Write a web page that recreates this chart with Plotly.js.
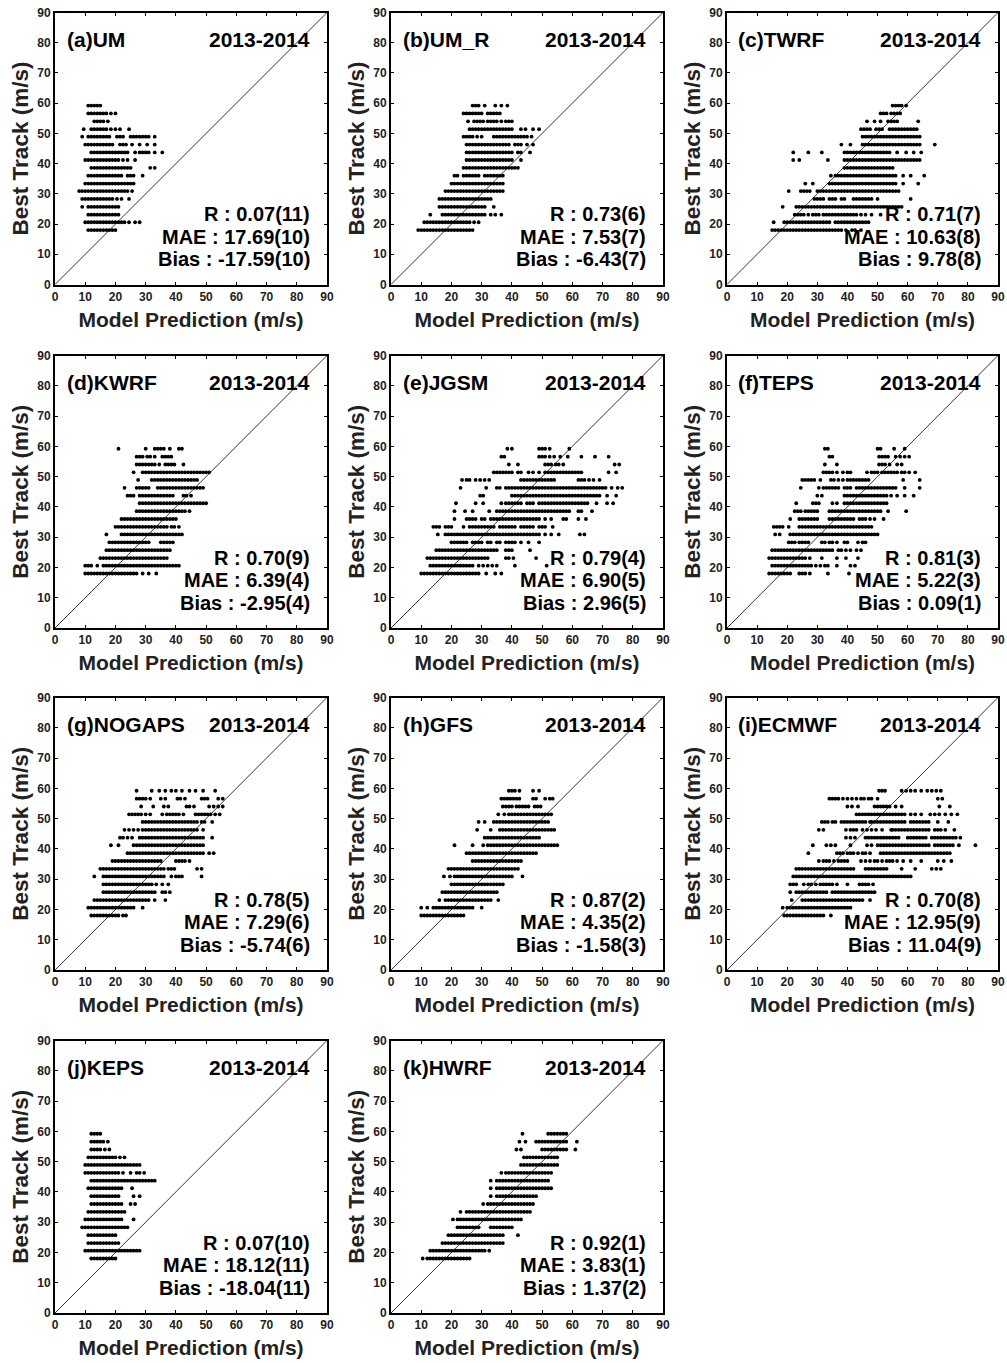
<!DOCTYPE html>
<html>
<head>
<meta charset="utf-8">
<script src="https://cdn.plot.ly/plotly-3.0.1.min.js"></script>
<style>html,body{margin:0;padding:0;background:#fff;}#chart{width:1007px;height:1363px;}</style>
</head>
<body>
<div id="chart"></div>
<script>
// Best-track intensity levels (m/s), shared by all panels (bottom to top)
const bestTrack = [18.0, 20.6, 23.1, 25.7, 28.3, 30.9, 33.4, 36.0, 38.6, 41.2, 43.7, 46.3, 48.9, 51.4, 54.0, 56.6, 59.2];

// Model predictions (m/s) observed at each best-track level, one list per level
const predUM = [
[11,12,13,14,15,16,17,18,19,20],
[10,11,12,13,14,15,16,17,18,19,20,21,22,23,24.5,26.5,28],
[11,12,13,14,15,16,17,18,19,20,21],
[9,11,12,13,14,15,16,17,18,19,20,21],
[9,10,11,12,13,14,15,16,17,18,19,20.5,22,24.5],
[8,9,10,11,12,13,14,15,16,17,18,19,20,21,22,23,24,25.5],
[10,11,12,13,14,15,16,17,18,19,20,21,22,23,24,25,26],
[11,12,13,14,15,16,17,18,19,20,21,22,24,25,26,29],
[12,13,14,15,16,17,18,19,20,21,22,23,24,25,31.5,33],
[10,11,12,13,14,15,16,17,18,19,20,21,22.5,24,26.5],
[12,13,14,15,16,17,18,19,20,21,22,23,24,26.5,28,29,30,31,33,35.5],
[10,11,12,13,14,15,16,17,18,19,21.5,22.5,23.5,25.5,28,30.5,33],
[9,11,12,13,14,15,16,17,18,20.5,21.5,22.5,25,26,27,28,29,30,31,33],
[9.5,12,13,14,15,16,17,18.5,20,21.5,24.5],
[13,14,15,16,17.5],
[11,12,13,14,15,16,17,18.5,20],
[11,12,13,14,15]
];
const predUMR = [
[9,10,11,12,13,14,15,16,17,18,19,20,21,22,23,24,25,26,27],
[11,12,13,14,15,16,17,18,19,20,21,22,23,24,25,26,27.5,29],
[13,17,18,19,20,21,22,23,24,25,26,27,28,29,30,31,33,34.5,36.5],
[16,17,18,19,20,21,22,23,24,25,26,27,28,29,30,31,34],
[16,17,18,19,20,21,22,23,24,25,26,27,28,29,30,31,32,33],
[18,19,20,21,22,23,24,25,26,27,28,29,30,31,32,33,34,35,36,37],
[20,21,22,23,24,25,26,27,28,29,30,31,32,33,34,35,36,37],
[21,22,24,25,26,27,28,29,31,32,33,34,35,36,37],
[24,25,26,27,28,29,30,31,32,33,34,35,36,37,38,39,40,41,42],
[25,26,27,28,29,30,31,32,33,34,35,36,37,38,39,40,43],
[25,26,27,28,29,30,31,32,33,34,35,36,37,38,39,40,42,43,46],
[25,26,27,28,29,30,31,32,33,34,35,36,37,38,39,41,42,43,45,47],
[24,25,26,27,28.5,30,34,35,36,37,38,39,40,41,42,43,44,45,46.5],
[26,27,28,29,30,31,32,33,34,35,36,37,38,39,40,43,44.5,47,49],
[25.5,27.5,28.5,29.5,30.5,32,33,34,35,36.5,38,39,40],
[24,25,26,27,28,29,30,32,33,34,35,36],
[27,28,29,31,34.5,36.5,38.5]
];
const predTWRF = [
[15,16,17,18,19,20,21,22,23,24,25,26,27,28,29,30,31,32,33,34,35,36,37,38,39.5,41.5,42.5,44.5],
[15.5,19,20,21,22,23,24,25,26,27,28,29,30,31,32,33,34,36,37,38,39,40,41,42,43,44,45,46,47],
[22.5,23.5,24.5,25.5,27,28.5,29.5,30.5,32,33,34,35,36,37,38,39,40,41,42,43,44.5,46,48,51],
[18.5,23,24,25,26,27,28,29,30,31,32,33,34,35,36,37,38,39,40,41,42,43,44,45,46,47,48,49,50,51,52,53,54,55,56,57,58],
[29,30,31,32,34,35,36,38,39,42,43,44,45,46,47,48,50,61],
[20.5,24.5,25.5,26.5,27.5,30,31,32,33,34,35,36,37,38,39,40,41,42,43,44,45,46,47,48,49,50,51,52,53,54,55,56,57],
[26,28.5,34,35,36,37,38,39,40,41,42,43,44,45,46,47,48,49,50,51,52,53,54,55,56,58.5,63.5],
[34.5,36,37,38,39,40,41,42,43,44,45,46,47,48,49,50,51,52,53,54,55,56,58.5,61,65.5],
[39,40,41,42,43,44,45,46,47,48,49,50,51,52,53,54,55],
[22,24,33.5,39,40,41,42,43,44,45,46,47,48,49,50,51,52,53,54,55,56,57,58,59,60,61,62,63,64],
[22,27,31.5,39,40,41,42,43,44,45,46,47,48,49,50,51,52,53,54,56.5,59.5,62,64.5],
[38,41,45,46,47,48,49,50,51,52,53,54,55,56,57,58,59,60,61,62,63,64,69],
[45,46,47,48,49,50,51,52,53,54,55,56,57,58,59,60,61,62,63,64],
[44.5,45.5,46.5,47.5,49.5,50.5,51.5,54,55,56,57,58,59,60,61,62,63],
[46.5,49,51,53.5,54.5,55.5,56.5,63.5],
[51,52,53,54.5,55.5,56.5,57.5],
[55,56,57,58,59.5]
];
const predKWRF = [
[10,11,12,13,14,15,16,17,18,19,20,21,22,23,24,25,26,27,29,31,33.5],
[10,11,12,14,16,17,18,19,20,21,22,23,24,25,26,27,28,29,30,31,32,33,34,35,36,37,38,39,40,41],
[15,16,17,18,19,20,21,22,23,24,25,26,27,28,29,30,31,32,33,34,35,36,37],
[17,18,19,20,21,22,23,24,25,26,27,28,29,30,31,32,33,34,35,36,37,38],
[18,19,20,21,22,23,24,25,26,27,28,29,30,31,35,36,37,38,39],
[17,22,23,24,25,26,27,28,29,30,31,32,33,34,35,36,37,38,39,40,41,42],
[20,21,22,23,24,25,26,27,28,29,30,31,32,33,34,35,36,37,38.5,39.5,41],
[22,23,24,25,26,27,28,29,30,31,32,33,34,35,36,37,38,39,40],
[27,28,29,30,31,32,33,34,35,36,37,38,39,40,41,42,43,44.5],
[28,29,30,31,32,33,34,35,36,37,38,39,40,41,42,43,44,45,46,47,48,49,50],
[24,25,26,28,29,30,31,32,33,34,35,36,37,38,39,42.5,43.5,45],
[23,27,28,29,30,31,34,35,36,37,38,39,40,41,42,43,44,45,46,47,48,49],
[27.5,32,33,34,35,36,37,38,39,40,41,42,43,44,45,46,47],
[26,29,30,31,32,33,34,35,36,37,38,39,40,41,42,43,44,45,46,47,48,49,50,51],
[27,28,29,30,31,32,33,34.5,36.5,37.5,38.5,39.5,42.5],
[27,28,29,30.5,31.5,33,35.5,36.5,37.5,38.5],
[21,30,33,34,35,36,38,41,42]
];
const predJGSM = [
[10,11,12,13,14,15,16,17,18,19,20,21,22,23,24,25,26,27,28,29,31.5,34.5,36.5],
[13,14,15,16,17,18,19,20,21,22,23,24,25,26,27,29,30.5,32,33.5,35,41,51.5],
[12,13,14,15,16,17,18,19,20,21,22,23,24,25,26,27,28,29,30,31,32,38,39,40.5,48],
[15,16,17,18,19,20,21,22,23,24,25,26,27,28,29,30,31,32,33,34,35,38,39,40,46],
[20,21,22,23,24,25,27,28,29,30,32,33,35,36,38,39,40,41,43,45.5,49],
[15.5,18,19,20,21,22,23,24,25,26,27,28,29,30,31,32,33,34,35,36,37,38,39,40,41,42,43,44,45,46,47,48,49,51,53,55.5,62.5,64],
[14,15,16,18,19,20,24,26,27,28,29,30,31,32,33,34,36,37,38,39,40,41,43,44,45,46,47,49,50,51,53.5],
[21,25,26,27,28,30,31,33,34,35,36,37,38,39,40,41,42,43,44,45,46,47,48,49,51,53,57,58,62,64.5],
[21,24.5,27,32.5,35,36,37,38,39,40,41,42,43,44,45,46,47,48,49,50,51,52,53,54,55,56,57,58,59,62,63,66.5],
[21.5,28,30.5,36.5,38,39,40,41,42,43,45,46,47,49,50,51,52,53,54,55,56,57,58,59,60,61,62,63,64,65,68,71.5,73.5],
[29.5,30.5,40,41,42,43,44,45,46,47,48,49,50,51,52,53,54,55,56,57,58,59,60,61,62,63,64,65,66,67,68,69,71.5,74.5],
[23,31.5,35,36,38,39,40,41,42,43,44,45,46,47,48,49,50,51,52,53,54,55,56,57,58,59,60,61,62,63,64,65,66,67,68,69,70,71,73,75,76.5],
[23.5,25,26,28,29.5,31,32.5,43,44,45,46,47,48,49,50,51,52,53,54,62,63,64,65.5,67,69],
[34,35,36,37,38,39,40,42,43,45.5,47,49,51,52,53,54,55,56,57,58,59,60,61,62,63,72,74.5],
[39,42,51,52,53,54.5,55.5,57,74,75.5],
[36.5,37.5,49,50,51,52.5,54,56,58.5,63,67.5,72],
[38.5,40,49,50,51,52.5,59]
];
const predTEPS = [
[14,15,16,17,18,19,20,21,24,25,26,27.5,33.5,40.5],
[15,16,17,18,19,20,21,22,23,24,25,26,27,28,29.5,31,32.5,33.5,36.5,41,42.5],
[14,15,16,17,18,19,20,21,22,23,24,25,26,27.5,31.5,36.5,39.5,43.5],
[15,16,17,18,19,20,21,22,23,24,25,26,27,28,29,30,31,32,33,34,35,37,38,39.5,41,43,44.5],
[20.5,21.5,22.5,24,25,26,27,31.5,32.5,34,35,36.5,39,40,43.5,45,46],
[16,17.5,21,22,23,24,25,26,27,28,29,30,31,32,33,34,35,36,37,38,39,40,41,42,43,44,45,46,47,48,49,50],
[15.5,16.5,17.5,18.5,20.5,24,25,26,27,28,29,30,31,32,33,34,35,36,37,38,39,40,41,42,43,44,45,46,47,48],
[21,24,25,26,27,28,29,30,34,35,36,37,38,39,40,41,42,44,45,46,47.5,49,52],
[22.5,23.5,24.5,26,27,28,29,30,34,35,36,37,38,39,40,41,42,43,44,45,46,47,48,49,50,51,53.5,59.5],
[23,28.5,29.5,30.5,35,36.5,39,40,41,42,43,44,45,46,47,48,49,50,51,52,53],
[30,31.5,39,40,41,42,43,44,45,46,47,48,49,50,51,52,53,54.5,56.5,59,62],
[24.5,30.5,32,33,34,35,36,37,39,40,41,43,44,45,46,47,48,49,50,51,52,53,54,55,56,59,64],
[25,26,27,28,29,31,34.5,35.5,37,38.5,40,41,42,43,44,45,46,47,58.5,64],
[32,33,34,35,36.5,38.5,40,41,46.5,48,49,50,51.5,52.5,53.5,54.5,55.5,56.5,58,59,60.5,62.5],
[32.5,36.5,50.5,51.5,52.5,54,56.5,58],
[34,35,50.5,51.5,52.5,53.5,56,57.5,59,60.5],
[32.5,33.5,50,51,55.5,59]
];
const predNOGAPS = [
[12,13,14,15,16,17,18,19,20,21,22.5,23.5],
[11,12,13,14,15,16,17,18,19,20,21,22,23,24,25,26,29],
[13,14,15,16,17,18,19,20,21,22,23,24,25,26,27,28,29,30,31,33,36.5],
[16,17,18,19,20,21,22,23,24,25,26,27,28,29,30,31,32,33,35.5,36.5,38],
[16,17,18,19,20,21,22,23,24,25,26,27,28,29,30,31,32,33.5,35.5,37.5],
[13,16,17,18,19,20,21,22,23,24,25,26,27,28,29,30,31,32,33,34,35,36,38.5,40,41,42,48.5],
[15,16,17,18,19,20,21,22,23,24,25,26,27,28,29,30,31,32,33,34,35,36,37.5,38.5,39.5,47,48.5],
[19,20,21,22,23,24,25,26,27,28,29,30,31,32,33,34,35,40,41,42,43,44.5],
[24,25,26,27,28,29,30,31,32,33,34,35,36,37,38,39,40,41,42,43,44,45,46,47,48,49,51,52.5],
[18.5,21,26,27,28,29,30,31,32,33,34,35,36,37,38,39,40,41,42,43,44,45,46,47,48,49],
[21.5,22.5,24,25.5,28,29,30,31,32,33,34,35,36,37,38,39,40,41,42,43,44,45,46,47,48,49,52],
[23,24.5,26,27.5,29,30,31,32,33,34,35,36,37,38,39,40,41,42,43,44,45,46,47,49],
[29,30,31,32,33,34,35,36,37,38,39,40,41,42,43,44,45,46,47,48.5,49.5,52],
[24.5,25.5,26.5,27.5,28.5,30,31.5,35.5,37,38,39,40,41,42.5,46.5,47.5,48.5,49.5,50.5,51.5,53,54.5],
[28.5,32.5,36,37.5,43.5,44.5,46,51,52.5,54,55.5],
[27,28,29,30,31.5,35,36.5,40.5,41.5,43,48.5,49.5,50.5,54,55.5],
[27,32,34.5,36.5,38.5,40,42,44.5,46.5,49,53]
];
const predGFS = [
[10,11,12,13,14,15,16,17,18,19,20,21,22,23,24],
[10,12,14,15,16,17,18,19,20,21,22,23,24,25,26,27,30],
[16,18,19,20,21,22,23,24,25,26,27,28,29,30,31,32,33,35.5],
[17,18,19,20,21,22,23,24,25,26,27,28,29,30,31,32,33,34,35],
[20,21,22,23,24,25,26,27,28,29,30,31,32,33,34,35,36,37],
[17.5,19.5,21,22,23,24,25,26,27,28,29,30,31,32,33,34,35,36,37,38,39,40,43.5],
[19,20,21,22,23,24,25,26,27,28,29,30,31,32,33,34,35,36,37,38,39,40,41,42],
[27,28,29,30,31,32,33,34,35,36,37,38,39,40,41,42,43],
[25,26,27,28,29,30,31,32,33,34,35,36,37,38,39,40,41,42,43,44,45,46,47,48],
[21,27,30.5,32,33,34,35,36,37,38,39,40,41,42,43,44,45,46,47,48,49,50,51,52,53,54,55],
[31,32,33,34,35,36,37,38,39,40,41,42,43,44,45,46,47,48,49],
[28.5,33,36,37,38,39,40,41,42,43,44,45,46,47,48,49,50,51,52,53,54],
[29,31,34,35,36,37,38,39,40,41,42,43,44,45,46,47,48,49,50,51,52],
[35.5,37.5,39,40,41,42,43,44,45,46,47,48,49,50,51,52,53],
[37,38,39,40,41.5,42.5,43.5,44.5,45.5,47.5,48.5,49.5],
[36.5,37.5,38.5,39.5,40.5,41.5,42.5,47,48,51,52.5,53.5],
[39,40,41,42.5,47,49]
];
const predECMWF = [
[19,20,21,22,23,24,25,26,27,28,29,30,31,32,34.5],
[18.5,20,21,22,23,24,25,26,27,28,29,30,31,32,33,34,35,36,37,38,39,40,41],
[21.5,25,26,27,28,29,30,31,32,33,34,35,36,37,38,39,40,41,42,43,44,45,47.5],
[21,23,24,25,26,27,28,29,30,31,32,33,35,36,37,38,39,40,41,42,43,44,45,46,47,48,49],
[21,22,23,25.5,27,28,29.5,31,32,33,34,35,36.5,40,44,45,46,47,48.5],
[22,23,24,25,26,27,28,29,30,31,32,33,34,35,36,37,38,39,40,41,42,43,44,45,46,47,48,49,50,51,52,53,54,55,56,57,58,59,60,61],
[23,24,25,26,27,28,29,30,31,32,33,34,35,36,37,38,39,40,41,42,46,47,48,49,50,51,52,53,58,62.5,68,69.5,71],
[30.5,32,33,34,35.5,37,38,39,40,44.5,46,47.5,49,50,51.5,53,54,55,56.5,58.5,61,64.5,70,72,74.5],
[27,36.5,37.5,38.5,40,41,42,43.5,45,46,47.5,51,52,53,54,55,56,57,58,59,60,61,62,63,64,65,66,67,68,69,70,71,72,73,74],
[28.5,33,34.5,36,41,46.5,48,50,51,52,53,54,55,56,57,58,59,60,61,62,63,64,65,66,67,69,70,71,72,73,74,75,77,82.5],
[39.5,41,42.5,46,47,48,49,50,51,52,53,54,55,56,57,60,61,62,63,64,65,66,68,69,70,71,72,73,74,75,76,77.5],
[30.5,32,39.5,41,42,43,45,46.5,48,49.5,51.5,54.5,55,56,57,58,59,60,61,62,63,64,65,66,67,69,70,71,72.5,75.5],
[31.5,32.5,33.5,35,36,38,39,40,41,42,43,44,45,46,47.5,48,49,50,51,52,53,54,55,56,57,58,59,61,62,63,64,65,66,67,70,73.5],
[43,44,45,46,47,48,49,50,51,52,53,54,55,56,57,58,59,61,62.5,64.5,67.5,69,70.5,72.5,74.5,76.5],
[40,41.5,43.5,49,50,51,52,53,54,56,58,70.5,74],
[34,35,36,37,38.5,40,41.5,43,44.5,45.5,47,48,50,70,71.5],
[50.5,51.5,52.5,58,59.5,61,62.5,64.5,66.5,68,69.5,71]
];
const predKEPS = [
[12,13,14,15,16,17,18,19,20],
[10,11,12,13,14,15,16,17,18,19,20,21,22,23,24,25,26,27,28],
[11,12,13,14,15,16,17,18,19,20,21],
[11,12,13,14,15,16,17,18,19,20],
[9,10,11,12,13,14,15,16,17,18,19,20,21,22,23,24],
[10,11,12,13,14,15,16,17,18,19,20,21,22,26],
[11,12,13,14,15,16,17,18,19,20,21,22,23],
[12,13,14,15,16,17,18,19,20,21,22,25,26.5],
[12,13,14,15,16,17,18,19,20,21,26,28],
[11,12,13,14,15,16,17,18,19,20,21,22,25.5],
[12,13,14,15,16,17,18,19,20,21,22,23,24,25,26,27,28,29,30,31,32,33],
[10,11,12,13,14,15,16,17,18,19,20,21,22.5,25,27,28,29.5],
[10,11,12,13,14,15,16,17,18,19,20,21,22,23,24,25,26,27,28],
[11,12,13,14,15,16,17,18,19,20,21.5,23],
[12,13,14,15,16.5,18],
[12,13,14,15,16,17.5],
[12,13,14,15]
];
const predHWRF = [
[10.5,12,13,14,15,16,17,18,19,20,21,22,23,24,25,26],
[13,14,15,16,17,18,19,20,21,22,23,24,25,26,27,28,29,30,31,32.5],
[17,18,19,20,21,22,23,24,25,26,27,28,29,30,31,32,33,34,35,36,37],
[19,20,21,22,23,24,25,26,27,28,29,30,31,32,33,34,35,36,37,42],
[22,23,24,25,26,27,28,29,33,34,35,36,37,38,39,40],
[20.5,22,23,24,25,26,27,28,29,30,31,32,33,34,35,36,37,38,39,40,41,42,43],
[23,25,26,27,28,29,30,31,32,33,34,35,36,37,38,39,40,41,42,43,44,45,46],
[30.5,32,33,34,35,36,37,38,39,40,41,42,43,44,45,46,47],
[33,35,36,37,38,39,40,41,42,43,44,45,46,47,48],
[33,35,36,37,38,39,40,41,42,43,44,45,46,47,48,49,50,51,52,53],
[33,35,36,37,38,39,40,41,42,43,44,45,46,47,48,49,50,51,52],
[36.5,38,39,40,41,42,43,44,45,46,47,48,49,50,51,52,53],
[43,44,45,46,47,48,49,50,51,52,53,54,55],
[44,45,46,47,48,49,50,51,52,53,54,55],
[41.5,43,50,51,52,53,54,55,56,57,58,61],
[42.5,44.5,48,49,50,51,52,53,54,55,56,57,58,61.5],
[43.5,52,53,54,55,56,57,58]
];

const panelLabels = ['(a)UM','(b)UM_R','(c)TWRF','(d)KWRF','(e)JGSM','(f)TEPS','(g)NOGAPS','(h)GFS','(i)ECMWF','(j)KEPS','(k)HWRF'];
const periodLabel = '2013-2014';
const statR = ['R : 0.07(11)','R : 0.73(6)','R : 0.71(7)','R : 0.70(9)','R : 0.79(4)','R : 0.81(3)','R : 0.78(5)','R : 0.87(2)','R : 0.70(8)','R : 0.07(10)','R : 0.92(1)'];
const statMAE = ['MAE : 17.69(10)','MAE : 7.53(7)','MAE : 10.63(8)','MAE : 6.39(4)','MAE : 6.90(5)','MAE : 5.22(3)','MAE : 7.29(6)','MAE : 4.35(2)','MAE : 12.95(9)','MAE : 18.12(11)','MAE : 3.83(1)'];
const statBias = ['Bias : -17.59(10)','Bias : -6.43(7)','Bias : 9.78(8)','Bias : -2.95(4)','Bias : 2.96(5)','Bias : 0.09(1)','Bias : -5.74(6)','Bias : -1.58(3)','Bias : 11.04(9)','Bias : -18.04(11)','Bias : 1.37(2)'];
const oneToOne = [0, 90];
const xTitle = 'Model Prediction (m/s)';
const yTitle = 'Best Track (m/s)';

const allPred = [predUM, predUMR, predTWRF, predKWRF, predJGSM, predTEPS, predNOGAPS, predGFS, predECMWF, predKEPS, predHWRF];

// ---------- layout ----------
const W = 1007, H = 1363;
const FONT = '"Liberation Sans", Arial, Helvetica, sans-serif';
const colPx = [[55, 327], [391, 663], [727, 998]];
const rowPx = [[12.5, 284.5], [355.5, 628], [697.5, 970], [1040.5, 1313]];

const traces = [];
const layout = {
  width: W, height: H,
  margin: {l: 0, r: 0, t: 0, b: 0},
  paper_bgcolor: '#fff', plot_bgcolor: '#fff',
  showlegend: false,
  font: {family: FONT, color: '#000'},
  annotations: []
};

allPred.forEach((pred, i) => {
  const c = i % 3, r = Math.floor(i / 3);
  const sfx = i === 0 ? '' : String(i + 1);
  const xs = [], ys = [];
  pred.forEach((row, k) => row.forEach(v => { xs.push(v); ys.push(bestTrack[k]); }));
  traces.push({
    type: 'scatter', mode: 'lines', x: oneToOne, y: oneToOne,
    xaxis: 'x' + sfx, yaxis: 'y' + sfx,
    line: {color: '#000', width: 0.8}, hoverinfo: 'skip'
  });
  traces.push({
    type: 'scatter', mode: 'markers', x: xs, y: ys,
    xaxis: 'x' + sfx, yaxis: 'y' + sfx,
    marker: {color: '#000', size: 3.8, line: {width: 0}}, hoverinfo: 'skip'
  });
  const common = {
    range: [0, 90], tick0: 0, dtick: 10,
    showline: true, linecolor: '#000', linewidth: 2, mirror: 'allticks',
    ticks: 'inside', ticklen: 3, tickwidth: 1, tickcolor: '#000',
    showgrid: false, zeroline: false, fixedrange: true, automargin: false,
    tickfont: {family: FONT, size: 12, color: '#222', weight: 'bold'}
  };
  layout['xaxis' + sfx] = Object.assign({}, common, {
    domain: [colPx[c][0] / W, colPx[c][1] / W],
    anchor: 'y' + sfx,
    title: {text: xTitle, font: {family: FONT, size: 21, color: '#222', weight: 'bold'}, standoff: 9}
  });
  layout['yaxis' + sfx] = Object.assign({}, common, {
    domain: [1 - rowPx[r][1] / H, 1 - rowPx[r][0] / H],
    anchor: 'x' + sfx,
    title: {text: yTitle, font: {family: FONT, size: 22.5, color: '#222', weight: 'bold'}, standoff: 2}
  });
  const xr = 'x' + sfx + ' domain', yr = 'y' + sfx + ' domain';
  const tf = {family: FONT, size: 21, color: '#000', weight: 'bold'};
  const sf = {family: FONT, size: 20, color: '#000', weight: 'bold'};
  layout.annotations.push(
    {xref: xr, yref: yr, x: 0.035, y: 0.902, xanchor: 'left', yanchor: 'middle', text: panelLabels[i], showarrow: false, font: tf},
    {xref: xr, yref: yr, x: 0.946, y: 0.902, xanchor: 'right', yanchor: 'middle', text: periodLabel, showarrow: false, font: tf},
    {xref: xr, yref: yr, x: 0.946, y: 0.258, xanchor: 'right', yanchor: 'middle', text: statR[i], showarrow: false, font: sf},
    {xref: xr, yref: yr, x: 0.946, y: 0.175, xanchor: 'right', yanchor: 'middle', text: statMAE[i], showarrow: false, font: sf},
    {xref: xr, yref: yr, x: 0.946, y: 0.093, xanchor: 'right', yanchor: 'middle', text: statBias[i], showarrow: false, font: sf}
  );
});

Plotly.newPlot('chart', traces, layout, {staticPlot: true, displayModeBar: false});
</script>
</body>
</html>
